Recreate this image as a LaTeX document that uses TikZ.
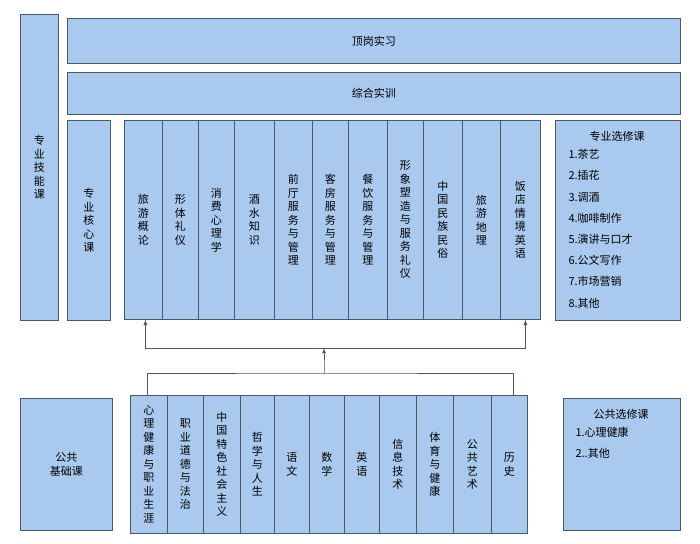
\documentclass[tikz,border=0pt]{standalone}
\usepackage{fontspec}
\setmainfont{Noto Sans CJK SC}
\usetikzlibrary{arrows}
\definecolor{boxfill}{HTML}{A9C9EF}
\definecolor{boxline}{HTML}{4A5868}
\tikzset{
  box/.style={draw=boxline,fill=boxfill,line width=0.8pt,inner sep=0pt,align=center,font=\fontsize{11}{13.5}\selectfont},
  link/.style={draw=boxline,line width=0.8pt}
}
\newcommand{\cbox}[6]{\node[box,anchor=north west,minimum width=#3-#2,minimum height=#5-#4] (#1) at (#2,#4) {#6};}
\begin{document}
\begin{tikzpicture}[x=1pt,y=-1pt]
  \useasboundingbox (0,0) rectangle (700,543);

  % Left and top blocks
  \cbox{skill}{20}{58}{14}{320}{专\\业\\技\\能\\课}
  \cbox{intern}{67}{680}{18}{63}{顶岗实习}
  \cbox{train}{67}{680}{72}{114}{综合实训}
  \cbox{core}{67}{110}{120}{320}{专\\业\\核\\心\\课}

  % Core courses
  \foreach \n/\xa/\xb/\txt in {c1/124/162/{旅\\游\\概\\论},c2/162/198/{形\\体\\礼\\仪},c3/198/234/{消\\费\\心\\理\\学},
      c4/234/274/{酒\\水\\知\\识},c5/274/312/{前\\厅\\服\\务\\与\\管\\理},c6/312/348/{客\\房\\服\\务\\与\\管\\理},
      c7/348/387/{餐\\饮\\服\\务\\与\\管\\理},c8/387/423/{形\\象\\塑\\造\\与\\服\\务\\礼\\仪},c9/423/462/{中\\国\\民\\族\\民\\俗},
      c10/462/500/{旅\\游\\地\\理},c11/500/540/{饭\\店\\情\\境\\英\\语}}
    {\cbox{\n}{\xa}{\xb}{120}{319}{\txt}}

  % Electives
  \cbox{elect}{555}{680}{120}{320}{}
  \node[anchor=north,font=\fontsize{11}{13.5}\selectfont] (electtitle) at (617,128) {专业选修课};
  \node[anchor=north west,align=left,font=\fontsize{11}{21.2}\selectfont] (electlist) at (565,146)
    {1.茶艺\\2.插花\\3.调酒\\4.咖啡制作\\5.演讲与口才\\6.公文写作\\7.市场营销\\8.其他};

  % Public basics
  \cbox{basic}{20}{112}{398}{530}{公共\\基础课}
  \foreach \n/\xa/\xb/\txt in {p1/130/167/{心\\理\\健\\康\\与\\职\\业\\生\\涯},p2/167/203/{职\\业\\道\\德\\与\\法\\治},
      p3/203/240/{中\\国\\特\\色\\社\\会\\主\\义},p4/240/274/{哲\\学\\与\\人\\生},p5/274/309/{语\\文},p6/309/344/{数\\学},
      p7/344/379/{英\\语},p8/379/416/{信\\息\\技\\术},p9/416/453/{体\\育\\与\\健\\康},p10/453/491/{公\\共\\艺\\术},p11/491/527/{历\\史}}
    {\cbox{\n}{\xa}{\xb}{395}{533}{\txt}}
  \cbox{pubelect}{563}{680}{398}{530}{}
  \node[anchor=north,font=\fontsize{11}{13.5}\selectfont] (pubtitle) at (621,406) {公共选修课};
  \node[anchor=north west,align=left,font=\fontsize{11}{21}\selectfont] (publist) at (572,424) {1.心理健康\\2..其他};

  % Connectors
  \coordinate (top) at (324,348);
  \coordinate (low) at (324,373);
  \draw[link] ([xshift=-2pt]p1.north) |- (low) -| ([xshift=4pt]p11.north);
  \draw[link,-latex] (low) -- (324,367) -- (top);
  \draw[link,-latex] (top) -| ([xshift=2pt]c1.south);
  \draw[link,-latex] (top) -| ([xshift=5pt]c11.south);
\end{tikzpicture}
\end{document}
